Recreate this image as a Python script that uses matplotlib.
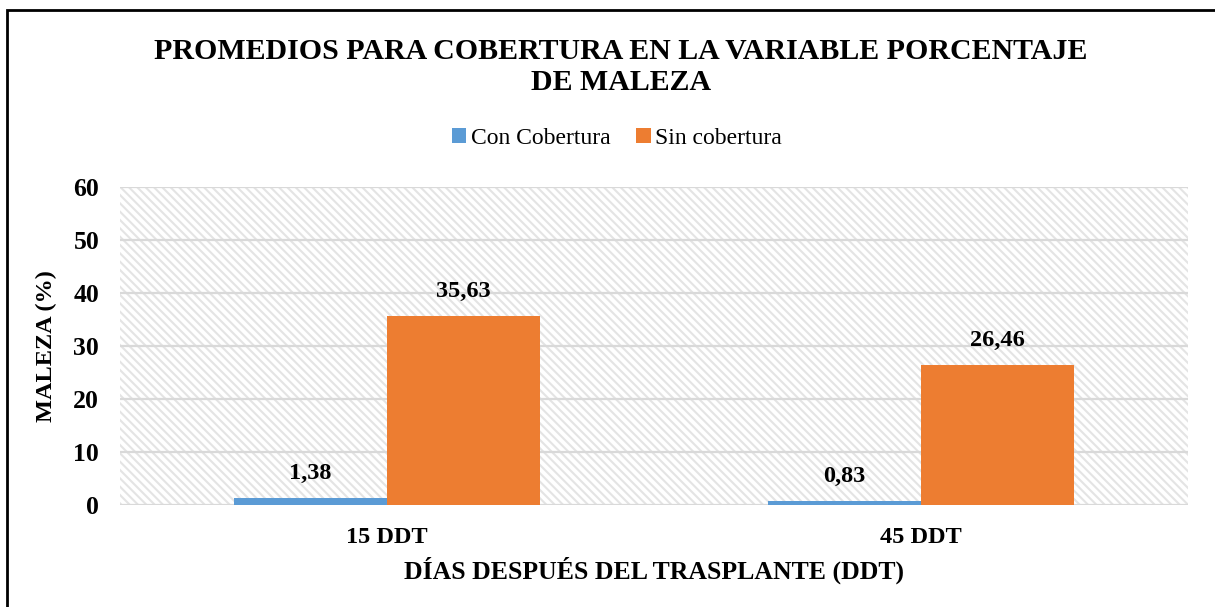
import matplotlib
matplotlib.use("Agg")
import matplotlib.pyplot as plt
import numpy as np
from matplotlib.patches import Rectangle

# data
categories = ['15 DDT', '45 DDT']
con_cobertura = [1.38, 0.83]
sin_cobertura = [35.63, 26.46]
series_names = ['Con Cobertura', 'Sin cobertura']
yticks = [0, 10, 20, 30, 40, 50, 60]

plt.rcParams['font.family'] = ['Liberation Serif', 'DejaVu Serif']
plt.rcParams['hatch.color'] = '#e4e4e4'
plt.rcParams['hatch.linewidth'] = 1.5

fig = plt.figure(figsize=(12.15, 6.07), dpi=100)
ax = fig.add_axes([120 / 1215, 1 - 505 / 607, 1068 / 1215, 318 / 607])

# outer frame (runs off the right and bottom edges)
fig.patches.append(Rectangle((7 / 1215, -0.05), 1.2, 1 - 10 / 607 + 0.05,
                             transform=fig.transFigure, fill=False,
                             edgecolor='black', linewidth=2))

# hatched plot background
ax.add_patch(Rectangle((0, 0), 1, 1, transform=ax.transAxes, facecolor='white',
                       hatch='\\\\\\\\', edgecolor='#e4e4e4', linewidth=0, zorder=0))

x = np.arange(len(categories))
w = 0.2865
b1 = ax.bar(x - w / 2, con_cobertura, w, color='#5B9BD5', label=series_names[0], zorder=3)
b2 = ax.bar(x + w / 2, sin_cobertura, w, color='#ED7D31', label=series_names[1], zorder=3)

for bars, vals in [(b1, con_cobertura), (b2, sin_cobertura)]:
    for rect, v in zip(bars, vals):
        ax.annotate(f'{v:.2f}'.replace('.', ','),
                    (rect.get_x() + rect.get_width() / 2, v),
                    xytext=(0, 10), textcoords='offset points',
                    ha='center', va='bottom', fontsize=17.5, fontweight='bold')

ax.set_xlim(-0.5, 1.5)
ax.set_ylim(0, 60)
ax.set_yticks(yticks)
ax.set_xticks(x)
ax.set_xticklabels(categories)
ax.grid(axis='y', color='#d9d9d9', linewidth=1.6, zorder=1)
ax.set_axisbelow(True)
for s in ax.spines.values():
    s.set_visible(False)
ax.tick_params(length=0, labelsize=17.5)
ax.tick_params(axis='y', pad=15, labelsize=18.5)
ax.tick_params(axis='x', pad=16)
for lbl in ax.get_xticklabels() + ax.get_yticklabels():
    lbl.set_fontweight('bold')

ax.set_ylabel('MALEZA (%)', fontsize=17.5, fontweight='bold', labelpad=12)
ax.set_xlabel('DÍAS DESPUÉS DEL TRASPLANTE (DDT)', fontsize=18.5, fontweight='bold', labelpad=6)

fig.text(621 / 1215, 1 - 67 / 607, 'PROMEDIOS PARA COBERTURA EN LA VARIABLE PORCENTAJE\nDE MALEZA',
         ha='center', va='center', fontsize=21.5, fontweight='bold', linespacing=1.2)

fig.legend(loc='center', bbox_to_anchor=(617 / 1215, 1 - 138 / 607), ncol=2,
           frameon=False, fontsize=17, handlelength=0.6, handleheight=0.6,
           handletextpad=0.2, columnspacing=1.1)

fig.savefig('out.png', dpi=100)
